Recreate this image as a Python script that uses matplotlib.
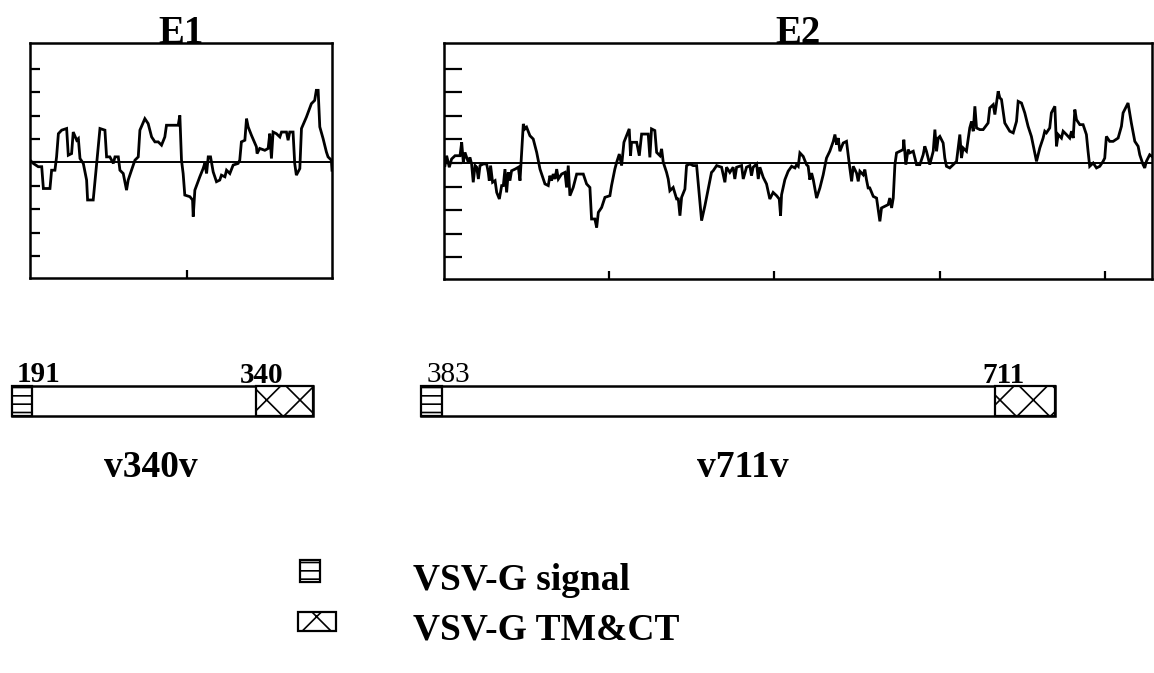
import matplotlib
matplotlib.use("Agg")
import matplotlib.pyplot as plt
from matplotlib.patches import Rectangle

plt.rcParams['font.family'] = ['Liberation Serif', 'DejaVu Serif']
plt.rcParams['hatch.linewidth'] = 1.2

# ---------------- data: hydropathy profiles ----------------
e1_res = [205.0, 207.0, 210.0, 212.1, 213.1, 217.1, 218.1, 220.1, 221.1, 222.2, 224.2, 227.2,
          228.2, 230.2, 231.2, 233.3, 234.3, 235.3, 237.3, 239.3, 239.9, 243.3, 245.4, 247.4,
          250.4, 251.4, 253.4, 255.5, 256.5, 258.5, 259.5, 261.5, 263.5, 264.5, 266.5, 268.6,
          270.6, 271.6, 274.6, 276.6, 278.7, 280.7, 282.7, 284.7, 286.7, 287.7, 294.8, 295.8,
          296.8, 297.8, 298.8, 301.9, 303.5, 303.9, 304.9, 307.9, 309.9, 310.9, 312.0, 313.0,
          314.4, 316.0, 318.0, 320.0, 321.0, 323.1, 324.1, 326.1, 328.1, 331.1, 332.1, 333.1,
          335.2, 336.2, 337.2, 339.2, 342.2, 342.6, 344.2, 347.3, 349.3, 350.3, 351.3, 352.3,
          354.3, 356.4, 357.4, 360.4, 361.4, 362.4, 364.4, 365.4, 366.4, 368.5, 369.5, 372.5,
          375.5, 377.5, 378.5, 379.6, 380.6, 382.6, 384.6, 385.6, 387.6, 388.0]
e1_hyd = [0.10, -0.04, -0.18, -0.18, -1.11, -1.11, -0.33, -0.33, 0.24, 1.23, 1.38, 1.45,
          0.31, 0.38, 1.30, 0.95, 1.02, 0.17, -0.04, -0.75, -1.60, -1.60, -0.04, 1.45,
          1.38, 0.24, 0.24, -0.04, 0.24, 0.24, -0.33, -0.47, -1.18, -0.75, -0.33, 0.10,
          0.24, 1.38, 1.87, 1.66, 1.09, 0.88, 0.88, 0.74, 1.09, 1.59, 1.59, 2.01,
          0.10, -0.47, -1.39, -1.46, -1.60, -2.31, -1.18, -0.61, -0.26, -0.04, -0.47, 0.24,
          0.24, -0.40, -0.82, -0.75, -0.54, -0.61, -0.33, -0.47, -0.11, -0.04, 0.10, 0.88,
          0.95, 1.87, 1.52, 1.16, 0.67, 0.38, 0.60, 0.52, 0.60, 1.23, 0.17, 1.30,
          1.23, 1.09, 1.30, 1.30, 0.95, 1.30, 1.30, -0.04, -0.54, -0.26, 1.45, 1.94,
          2.51, 2.65, 3.08, 3.08, 1.52, 1.02, 0.45, 0.24, 0.10, -0.33]

e2_res = [400.6, 401.6, 403.2, 404.6, 406.7, 409.7, 410.7, 411.7, 412.7, 413.7, 414.7, 415.7,
          416.7, 417.7, 418.8, 419.8, 420.8, 421.8, 423.8, 425.8, 426.8, 427.4, 428.2, 429.4,
          430.9, 431.9, 433.5, 434.9, 435.9, 436.9, 437.9, 438.9, 439.9, 440.9, 443.0, 445.0,
          446.0, 447.0, 448.0, 449.0, 450.0, 452.0, 454.0, 456.1, 458.1, 460.1, 461.1, 463.1,
          464.1, 465.1, 466.1, 467.2, 468.2, 469.2, 471.2, 473.2, 474.2, 475.2, 476.2, 478.2,
          480.3, 484.3, 486.3, 488.3, 489.3, 491.3, 492.4, 493.4, 495.4, 497.4, 500.4, 501.4,
          503.4, 504.5, 506.1, 507.5, 508.9, 510.5, 512.1, 512.9, 513.5, 516.6, 518.2, 519.6,
          523.6, 524.6, 525.6, 527.6, 528.7, 530.7, 531.7, 532.7, 534.7, 535.7, 536.7, 538.7,
          540.8, 541.8, 542.8, 543.8, 545.8, 546.8, 548.8, 550.8, 552.9, 553.9, 555.9, 557.9,
          559.9, 561.9, 562.9, 565.0, 568.0, 570.0, 571.0, 573.0, 575.0, 576.0, 577.1, 580.1,
          581.1, 583.1, 585.1, 586.1, 587.1, 589.2, 590.2, 591.2, 593.2, 595.2, 597.2, 599.2,
          601.3, 602.9, 603.7, 604.3, 606.3, 608.3, 610.4, 612.4, 613.4, 614.4, 615.4, 617.4,
          619.4, 620.4, 621.4, 622.5, 623.5, 625.5, 627.5, 629.5, 631.5, 633.5, 635.6, 636.6,
          637.6, 638.6, 639.6, 641.6, 643.6, 644.6, 645.6, 646.7, 647.7, 649.7, 650.7, 651.7,
          653.7, 654.7, 655.7, 656.7, 657.7, 659.8, 661.8, 663.8, 664.8, 666.8, 668.8, 669.8,
          670.9, 671.9, 672.9, 673.9, 675.9, 677.9, 678.3, 679.5, 680.9, 681.9, 684.0, 686.0,
          688.0, 690.0, 691.0, 692.0, 694.0, 696.1, 697.1, 698.1, 699.1, 700.1, 702.1, 703.1,
          704.1, 706.1, 708.2, 710.2, 712.2, 713.2, 714.2, 716.2, 718.2, 719.3, 720.3, 721.3,
          722.3, 724.3, 726.3, 729.3, 730.3, 732.4, 733.4, 735.4, 736.4, 737.4, 739.4, 742.4,
          744.5, 746.5, 747.5, 749.5, 751.5, 753.5, 755.5, 758.6, 760.6, 762.6, 763.6, 764.6,
          766.6, 767.6, 769.7, 770.7, 771.7, 773.7, 774.7, 776.7, 778.7, 779.8, 780.8, 781.8,
          782.8, 784.8, 786.8, 788.8, 789.8, 790.8, 792.9, 794.9, 796.9, 798.9, 799.9, 800.9,
          802.9, 805.0, 808.0, 810.0, 811.0, 814.0, 816.0, 818.1, 820.1, 821.1, 823.1, 824.1,
          825.1, 827.1, 828.5]
e2_hyd = [-0.11, 0.31, -0.18, 0.17, 0.31, 0.31, 0.88, 0.03, 0.45, 0.24, 0.03, 0.24,
          -0.04, -0.82, -0.11, -0.18, -0.68, -0.11, -0.04, -0.04, -0.40, -0.75, -0.11, -0.82,
          -0.75, -1.25, -1.53, -0.96, -0.96, -0.26, -1.25, -0.40, -0.75, -0.33, -0.26, -0.18,
          -0.75, 0.45, 1.66, 1.45, 1.52, 1.16, 1.02, 0.45, -0.26, -0.68, -0.89, -0.96,
          -0.54, -0.75, -0.47, -0.68, -0.26, -0.68, -0.47, -0.40, -1.04, -0.11, -1.39, -1.04,
          -0.47, -0.47, -0.89, -1.04, -2.38, -2.38, -2.74, -2.10, -1.89, -1.46, -1.39, -0.96,
          -0.26, 0.03, 0.38, -0.11, 0.88, 1.16, 1.45, 0.31, 0.88, 0.88, 0.31, 1.23,
          1.23, 0.24, 1.45, 1.38, 0.45, 0.31, 0.60, 0.03, -0.40, -0.68, -1.18, -1.04,
          -1.53, -1.53, -2.24, -1.46, -1.11, -0.11, -0.04, -0.11, -0.11, -0.89, -2.45, -1.82,
          -1.11, -0.40, -0.33, -0.11, -0.18, -0.82, -0.18, -0.40, -0.18, -0.68, -0.18, -0.11,
          -0.68, -0.18, -0.11, -0.54, -0.18, -0.04, -0.68, -0.18, -0.61, -0.89, -1.53, -1.25,
          -1.39, -1.53, -2.24, -1.35, -0.71, -0.35, -0.14, -0.21, -0.07, -0.14, 0.43, 0.28,
          -0.07, -0.14, -0.71, -0.43, -0.71, -1.49, -1.06, -0.50, 0.21, 0.50, 0.92, 1.21,
          0.78, 1.06, 0.50, 0.85, 0.92, 0.35, -0.21, -0.78, -0.14, -0.43, -0.78, -0.35,
          -0.50, -0.28, -0.71, -1.06, -1.06, -1.42, -1.49, -2.48, -1.91, -1.84, -1.77, -1.49,
          -1.91, -1.49, -0.07, 0.43, 0.50, 0.57, 0.99, -0.07, 0.57, 0.43, 0.50, -0.07,
          -0.07, 0.35, 0.71, 0.50, -0.07, 0.50, 1.42, 0.50, 1.06, 1.13, 0.85, 0.21,
          -0.14, -0.21, -0.07, 0.07, 1.21, 0.21, 0.64, 0.50, 1.49, 1.77, 1.35, 2.41,
          1.49, 1.42, 1.42, 1.70, 2.34, 2.48, 2.06, 3.05, 2.77, 2.70, 1.70, 1.35,
          1.28, 1.77, 2.62, 2.55, 2.13, 1.56, 1.13, 0.07, 0.64, 1.06, 1.35, 1.28,
          1.49, 2.13, 2.41, 0.71, 1.21, 1.06, 1.35, 1.21, 1.06, 1.35, 1.06, 2.27,
          1.84, 1.63, 1.63, 1.21, 0.50, -0.14, 0.00, -0.21, -0.14, 0.07, 0.21, 1.13,
          0.92, 0.92, 1.06, 1.56, 2.13, 2.55, 1.70, 0.92, 0.71, 0.35, -0.07, -0.21,
          0.07, 0.35, 0.28]

e1_xlim = (205, 388)
e2_xlim = (400, 828.5)
e1_xticks = [300]
e2_xticks = [500, 600, 700, 800]
y_ticks = [-4, -3, -2, -1, 0, 1, 2, 3, 4]
panel_titles = ['E1', 'E2']

# ---------------- data: constructs (schematic units) ----------------
construct_names = ['v340v', 'v711v']
start_labels = ['191', '383']
end_labels = ['340', '711']
bar_left = [12, 421]
bar_right = [313, 1055]
signal_width = [20, 21]
tm_width = [57, 60]
legend_labels = ['VSV-G signal', 'VSV-G TM&CT']

W, H = 1154, 673
fig = plt.figure(figsize=(W / 100, H / 100), dpi=100)

# overlay axes in pixel units for schematic part
ov = fig.add_axes([0, 0, 1, 1])
ov.set_xlim(0, W)
ov.set_ylim(H, 0)
ov.axis('off')


def hydro_axes(rect, res, hyd, xlim, xticks, title, ticklen):
    ax = fig.add_axes(rect)
    ax.plot(res, hyd, color='black', lw=2.0, solid_joinstyle='miter')
    ax.axhline(0, color='black', lw=1.4)
    ax.set_xlim(*xlim)
    ax.set_ylim(-4.93, 5.1)
    ax.set_xticks(xticks)
    ax.set_yticks(y_ticks)
    ax.set_xticklabels([])
    ax.set_yticklabels([])
    ax.tick_params(axis='y', direction='in', length=ticklen, width=1.6)
    ax.tick_params(axis='x', direction='in', length=6, width=1.6)
    for s in ax.spines.values():
        s.set_linewidth(1.8)
    ax.set_title(title, fontsize=28, fontweight='bold', y=1.0, pad=0)
    return ax


hydro_axes([30 / W, 1 - 278 / H, 302 / W, 235 / H], e1_res, e1_hyd, e1_xlim,
           e1_xticks, panel_titles[0], 7)
hydro_axes([444 / W, 1 - 279 / H, 708 / W, 236 / H], e2_res, e2_hyd, e2_xlim,
           e2_xticks, panel_titles[1], 13)

# construct bars
bar_top = 386
bar_h = 30
for i in range(2):
    L, R = bar_left[i], bar_right[i]
    ov.add_patch(Rectangle((L, bar_top), R - L, bar_h, facecolor='white',
                           edgecolor='black', lw=1.8, zorder=2))
    ov.add_patch(Rectangle((L, bar_top), signal_width[i], bar_h, facecolor='white',
                           edgecolor='black', hatch='--', lw=1.6, zorder=3))
    ov.add_patch(Rectangle((R - tm_width[i], bar_top), tm_width[i], bar_h,
                           facecolor='white', edgecolor='black', hatch='x', lw=1.6, zorder=3))
    ov.text(L + 5 + 1 * i, bar_top - 4, start_labels[i], fontsize=21,
            fontweight='bold' if i == 0 else 'normal', ha='left', va='baseline')
    ov.text(R - tm_width[i] - 16 + 3 * i, bar_top - 3, end_labels[i], fontsize=21,
            fontweight='bold', ha='left', va='baseline')
    ov.text((151, 743)[i], 477, construct_names[i], fontsize=27, fontweight='bold',
            ha='center', va='baseline')

# legend
ov.add_patch(Rectangle((300, 560), 20, 22, facecolor='white', edgecolor='black',
                       hatch='--', lw=1.6))
ov.text(413, 590, legend_labels[0], fontsize=27, fontweight='bold', ha='left', va='baseline')
ov.add_patch(Rectangle((298, 612), 38, 19, facecolor='white', edgecolor='black',
                       hatch='x', lw=1.6))
ov.text(413, 640, legend_labels[1], fontsize=27, fontweight='bold', ha='left', va='baseline')

fig.savefig('out.png', dpi=100)
